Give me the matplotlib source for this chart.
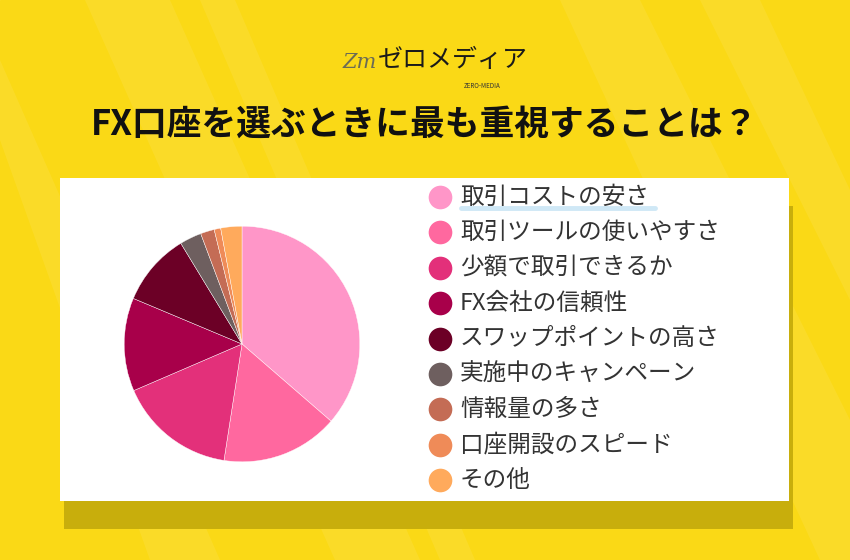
import numpy as np
import matplotlib.pyplot as plt
from matplotlib.patches import Rectangle, Polygon

plt.rcParams['font.family'] = ['Noto Sans CJK JP', 'DejaVu Sans']

# ============================================================
# DATA (percent)
# ============================================================
labels = ["取引コストの安さ", "取引ツールの使いやすさ", "少額で取引できるか",
          "FX会社の信頼性", "スワップポイントの高さ", "実施中のキャンペーン",
          "情報量の多さ", "口座開設のスピード", "その他"]
shares = [36.4, 16.1, 16.1, 12.8, 10.0, 3.0, 1.9, 0.9, 2.9]
colors = ["#FF96C8", "#FF689F", "#E3307A", "#A8004A", "#6C0026",
          "#6E5F5F", "#C46C55", "#EF8B58", "#FFAA5C"]

title = "FX口座を選ぶときに最も重視することは？"

W, H = 850, 560
fig = plt.figure(figsize=(W / 100, H / 100), dpi=100)

# background axes in pixel coords
bg = fig.add_axes([0, 0, 1, 1])
bg.set_xlim(0, W)
bg.set_ylim(H, 0)
bg.axis('off')
bg.add_patch(Rectangle((0, 0), W, H, color="#FAD916", zorder=0))

# light diagonal bands
bands = [
    [(85, 0), (170, 0), (420, 560), (335, 560)],
    [(200, 0), (235, 0), (475, 560), (440, 560)],
    [(560, 0), (640, 0), (850, 420), (850, 560), (820, 560)],
    [(700, 0), (760, 0), (850, 190), (850, 300)],
    [(0, 140), (0, 60), (220, 560), (150, 560)],
]
for b in bands:
    bg.add_patch(Polygon(b, closed=True, color="white", alpha=0.08, lw=0, zorder=1))

# logo
bg.text(360, 62, "Zm", fontsize=15, color="#6b6b55", style='italic',
        ha='center', va='center', zorder=3, family=['DejaVu Serif'])
bg.text(453, 60, "ゼロメディア", fontsize=18, color="#1a1a1a",
        ha='center', va='center', zorder=3)
bg.text(482, 86, "ZERO-MEDIA", fontsize=4.5, color="#333333",
        ha='center', va='center', zorder=3)

# title
bg.text(425, 124, title, fontsize=25, fontweight='bold', color="#111111",
        ha='center', va='center', zorder=3)

# card with shadow
bg.add_patch(Rectangle((64, 206), 729, 323, color="#C8AE0C", lw=0, zorder=2))
bg.add_patch(Rectangle((60, 178), 729, 323, color="white", lw=0, zorder=3))

# legend
y0, dy = 197, 35.4
for i, (lab, col) in enumerate(zip(labels, colors)):
    y = y0 + i * dy
    if i == 0:
        bg.plot([461, 655], [208, 208], color="#CFE8F6", lw=3.5,
                solid_capstyle='round', zorder=4)
    bg.scatter([440], [y], s=290, color=col, lw=0, zorder=5)
    bg.text(460, y, lab, fontsize=17, color="#333333", ha='left',
            va='center', zorder=5)

# pie
cx, cy, r = 242, 344, 119
pax = fig.add_axes([(cx - r) / W, 1 - (cy + r) / H, 2 * r / W, 2 * r / H])
pax.pie(shares, colors=colors, startangle=90, counterclock=False,
        wedgeprops=dict(edgecolor="white", linewidth=0.3))
pax.set_xlim(-1.01, 1.01)
pax.set_ylim(-1.01, 1.01)
pax.set_zorder(6)

fig.savefig("out.png", dpi=100)
